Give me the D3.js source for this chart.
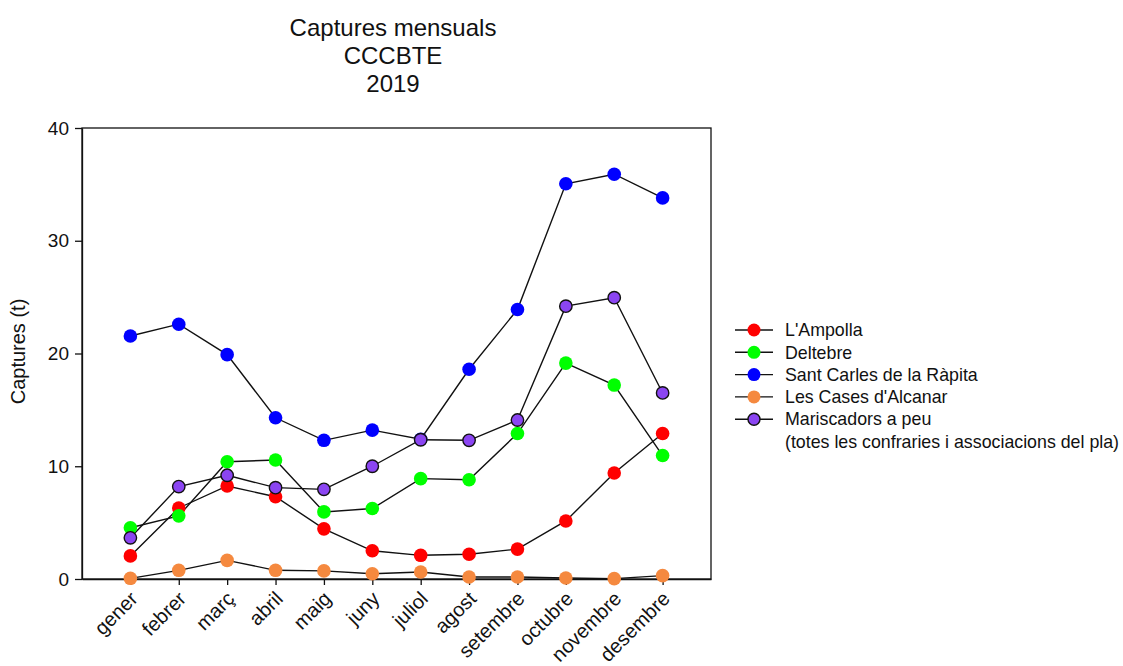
<!DOCTYPE html>
<html>
<head>
<meta charset="utf-8">
<script src="https://cdn.jsdelivr.net/npm/d3@7"></script>
<style>
  body { margin: 0; background: #fff; }
  svg { font-family: "Liberation Sans", Arial, sans-serif; }
</style>
</head>
<body>
<svg id="chart"></svg>
<script>
// months on the x axis
const months = ['gener', 'febrer', 'març', 'abril', 'maig', 'juny', 'juliol',
  'agost', 'setembre', 'octubre', 'novembre', 'desembre'];

// captures (t) per series
const ampolla = [2.05, 6.3, 8.25, 7.3, 4.45, 2.5, 2.1, 2.2, 2.65, 5.15, 9.4, 12.9];
const deltebre = [4.55, 5.6, 10.4, 10.55, 5.95, 6.25, 8.9, 8.8, 12.9, 19.15, 17.2, 10.95];
const santCarles = [21.55, 22.6, 19.9, 14.3, 12.3, 13.2, 12.4, 18.6, 23.9, 35.05, 35.9, 33.8];
const casesAlcanar = [0.06, 0.77, 1.65, 0.77, 0.72, 0.47, 0.62, 0.18, 0.18, 0.09, 0.03, 0.3];
const mariscadors = [3.65, 8.2, 9.2, 8.1, 7.95, 10.0, 12.35, 12.3, 14.1, 24.2, 24.95, 16.5];

const yTicks = [0, 10, 20, 30, 40];

const series = [
  {name: "L'Ampolla", values: ampolla, color: '#ff0000', stroke: 'none'},
  {name: 'Deltebre', values: deltebre, color: '#00ff00', stroke: 'none'},
  {name: 'Sant Carles de la Ràpita', values: santCarles, color: '#0000ff', stroke: 'none'},
  {name: "Les Cases d'Alcanar", values: casesAlcanar, color: '#f5893f', stroke: 'none'},
  {name: 'Mariscadors a peu', extra: '(totes les confraries i associacions del pla)',
    values: mariscadors, color: '#8b45f2', stroke: '#111'}
];

const width = 1123, height = 666;
const margin = {top: 128, left: 82, right: 412, bottom: 87};
const innerW = width - margin.left - margin.right;
const innerH = height - margin.top - margin.bottom;

const svg = d3.select('#chart')
  .attr('width', width)
  .attr('height', height);

// title
const title = svg.append('text')
  .attr('x', 393)
  .attr('y', 36)
  .attr('text-anchor', 'middle')
  .style('font-size', '24px')
  .attr('fill', '#111');
['Captures mensuals', 'CCCBTE', '2019'].forEach((t, i) => {
  title.append('tspan').attr('x', 393).attr('dy', i === 0 ? 0 : 28).text(t);
});

const chart = svg.append('g')
  .attr('transform', `translate(${margin.left},${margin.top})`);

const xScale = d3.scalePoint()
  .domain(months)
  .range([0, innerW])
  .padding(1);

const yScale = d3.scaleLinear()
  .domain([0, 40])
  .range([innerH, 0]);

// frame
chart.append('rect')
  .attr('width', innerW)
  .attr('height', innerH)
  .attr('fill', 'none')
  .attr('stroke', '#111')
  .attr('stroke-width', 1.3);

// axes
const yAxisG = chart.append('g')
  .call(d3.axisLeft(yScale).tickValues(yTicks).tickSize(7).tickSizeOuter(0));
yAxisG.select('.domain').attr('stroke', '#111').attr('stroke-width', 1.3);
yAxisG.selectAll('.tick line').attr('stroke', '#111').attr('stroke-width', 1.3);
yAxisG.selectAll('.tick text')
  .attr('x', -13)
  .style('font-size', '19px')
  .style('font-family', '"Liberation Sans", Arial, sans-serif')
  .attr('fill', '#111');

const xAxisG = chart.append('g')
  .attr('transform', `translate(0,${innerH})`)
  .call(d3.axisBottom(xScale).tickSize(6).tickSizeOuter(0));
xAxisG.select('.domain').attr('stroke', '#111').attr('stroke-width', 1.3);
xAxisG.selectAll('.tick line').attr('stroke', '#111').attr('stroke-width', 1.3);
xAxisG.selectAll('.tick text')
  .attr('y', 0)
  .attr('dy', 0)
  .attr('transform', 'translate(8,21) rotate(-45)')
  .style('text-anchor', 'end')
  .style('font-size', '20px')
  .style('font-family', '"Liberation Sans", Arial, sans-serif')
  .attr('fill', '#111');

// y axis title
chart.append('text')
  .attr('transform', `translate(${18 - margin.left},${innerH / 2 - 2}) rotate(-90)`)
  .attr('text-anchor', 'middle')
  .attr('dy', '0.35em')
  .style('font-size', '20px')
  .attr('fill', '#111')
  .text('Captures (t)');

// lines and markers
const line = d3.line()
  .x((d, i) => xScale(months[i]))
  .y(d => yScale(d));

series.forEach(s => {
  chart.append('path')
    .datum(s.values)
    .attr('fill', 'none')
    .attr('stroke', '#111')
    .attr('stroke-width', 1.4)
    .attr('d', line);
});

series.forEach(s => {
  chart.append('g')
    .selectAll('circle')
    .data(s.values)
    .join('circle')
    .attr('cx', (d, i) => xScale(months[i]))
    .attr('cy', d => yScale(d))
    .attr('r', s.stroke === 'none' ? 6.8 : 6.2)
    .attr('fill', s.color)
    .attr('stroke', s.stroke === 'none' ? null : s.stroke)
    .attr('stroke-width', 1.4);
});

// legend
const legend = svg.append('g')
  .attr('transform', 'translate(735,330)');

series.forEach((s, i) => {
  const row = legend.append('g')
    .attr('transform', `translate(0,${i * 22.3})`);
  row.append('line')
    .attr('x1', 0).attr('x2', 38)
    .attr('stroke', '#111')
    .attr('stroke-width', 1.4);
  row.append('circle')
    .attr('cx', 19)
    .attr('r', s.stroke === 'none' ? 6.5 : 6)
    .attr('fill', s.color)
    .attr('stroke', s.stroke === 'none' ? null : s.stroke)
    .attr('stroke-width', 1.4);
  row.append('text')
    .attr('x', 50)
    .attr('dy', '0.35em')
    .style('font-size', '17.8px')
    .attr('fill', '#111')
    .text(s.name);
  if (s.extra) {
    row.append('text')
      .attr('x', 50)
      .attr('y', 22.3)
      .attr('dy', '0.35em')
      .style('font-size', '17.8px')
      .attr('fill', '#111')
      .text(s.extra);
  }
});
</script>
</body>
</html>
